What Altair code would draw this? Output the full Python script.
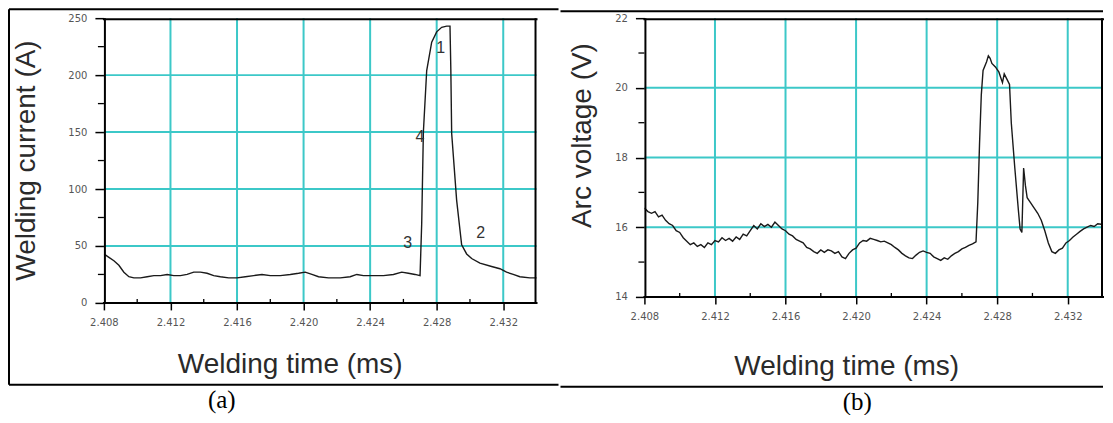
import altair as alt
import pandas as pd

# ---------------- data ----------------
cur_time = [2.4080, 2.4083, 2.4086, 2.4089, 2.4092, 2.4095, 2.4098, 2.4102, 2.4106, 2.4110,
            2.4114, 2.4118, 2.4122, 2.4126, 2.4130, 2.4134, 2.4138, 2.4142, 2.4146, 2.4150,
            2.4155, 2.4160, 2.4165, 2.4170, 2.4175, 2.4180, 2.4186, 2.4192, 2.4197, 2.4201,
            2.4205, 2.4209, 2.4215, 2.4222, 2.4228, 2.4232, 2.4236, 2.4242, 2.4248, 2.4254,
            2.4259, 2.4263, 2.4267, 2.4270, 2.4271, 2.4272, 2.4274, 2.4277, 2.4280, 2.4283,
            2.4286, 2.4288, 2.42885, 2.4289, 2.4292, 2.4295, 2.4298, 2.4301, 2.4306, 2.4313,
            2.4318, 2.4322, 2.4326, 2.4330, 2.4336, 2.4342]
cur_amp = [43, 40, 37, 33, 27, 23, 22, 22, 23, 24,
           24, 25, 24, 24, 25, 27, 27, 26, 24, 23,
           22, 22, 23, 24, 25, 24, 24, 25, 26, 27,
           25, 23, 22, 22, 23, 25, 24, 24, 24, 25,
           27, 26, 25, 24, 70, 150, 204, 229, 238, 242,
           243, 243, 205, 149, 90, 51, 43, 39, 35, 32,
           30, 27, 25, 23, 22, 22]

volt_time = [2.4080, 2.4082, 2.4084, 2.4086, 2.4088, 2.4090, 2.4092, 2.4094, 2.4096, 2.4098,
             2.4100, 2.4102, 2.4104, 2.4106, 2.4108, 2.4110, 2.4112, 2.4114, 2.4116, 2.4118,
             2.4120, 2.4122, 2.4124, 2.4126, 2.4128, 2.4130, 2.4132, 2.4134, 2.4136, 2.4138,
             2.4140, 2.4142, 2.4144, 2.4146, 2.4148, 2.4150, 2.4152, 2.4154, 2.4156, 2.4158,
             2.4160, 2.4162, 2.4164, 2.4166, 2.4168, 2.4170, 2.4172, 2.4174, 2.4176, 2.4178,
             2.4180, 2.4182, 2.4184, 2.4186, 2.4188, 2.4190, 2.4192, 2.4194, 2.4196, 2.4198,
             2.4200, 2.4202, 2.4204, 2.4206, 2.4208, 2.4210, 2.4212, 2.4214, 2.4216, 2.4218,
             2.4220, 2.4222, 2.4224, 2.4226, 2.4228, 2.4230, 2.4232, 2.4234, 2.4236, 2.4238,
             2.4240, 2.4242, 2.4244, 2.4246, 2.4248, 2.4250, 2.4252, 2.4254, 2.4256, 2.4258,
             2.4260, 2.4262, 2.4264, 2.4266, 2.4268, 2.4269, 2.4270, 2.4271, 2.4272, 2.4274,
             2.4275, 2.4276, 2.4277, 2.4279, 2.4281, 2.4282, 2.4283, 2.4284, 2.4285, 2.4286,
             2.4287, 2.4288, 2.4290, 2.4292, 2.4293, 2.4294, 2.4295, 2.4296, 2.4297, 2.4299,
             2.4301, 2.4303, 2.4305, 2.4307, 2.4309, 2.4311, 2.4313, 2.4315, 2.4317, 2.4319,
             2.4321, 2.4323, 2.4325, 2.4327, 2.4329, 2.4331, 2.4333, 2.4335, 2.4337, 2.4340]
volt_v = [16.55, 16.45, 16.40, 16.45, 16.30, 16.35, 16.20, 16.10, 16.05, 15.90,
          15.85, 15.70, 15.60, 15.50, 15.55, 15.45, 15.50, 15.42, 15.55, 15.50,
          15.62, 15.58, 15.70, 15.62, 15.68, 15.60, 15.72, 15.65, 15.80, 15.75,
          15.90, 16.05, 15.95, 16.10, 16.02, 16.08, 16.00, 16.15, 16.05, 15.95,
          15.90, 15.80, 15.75, 15.65, 15.60, 15.55, 15.42, 15.38, 15.30, 15.25,
          15.35, 15.28, 15.35, 15.32, 15.25, 15.30, 15.15, 15.10, 15.25, 15.35,
          15.40, 15.55, 15.62, 15.60, 15.68, 15.65, 15.62, 15.58, 15.60, 15.55,
          15.50, 15.42, 15.35, 15.25, 15.18, 15.12, 15.10, 15.20, 15.28, 15.32,
          15.28, 15.25, 15.15, 15.10, 15.05, 15.12, 15.08, 15.18, 15.25, 15.30,
          15.38, 15.42, 15.48, 15.52, 15.58, 16.70, 18.40, 19.80, 20.50, 20.75,
          20.92, 20.85, 20.70, 20.60, 20.45, 20.30, 20.15, 20.40, 20.30, 20.20,
          20.10, 19.00, 17.70, 16.50, 15.95, 15.85, 17.70, 17.20, 16.85, 16.70,
          16.55, 16.40, 16.20, 15.90, 15.55, 15.30, 15.25, 15.35, 15.40, 15.55,
          15.62, 15.72, 15.80, 15.88, 15.95, 16.00, 16.05, 16.02, 16.10, 16.08]

x_ticks = [2.408, 2.412, 2.416, 2.420, 2.424, 2.428, 2.432]
x_grid = [2.412, 2.416, 2.420, 2.424, 2.428, 2.432]
x_minor = [2.410, 2.414, 2.418, 2.422, 2.426, 2.430]
cur_ticks = [0, 50, 100, 150, 200, 250]
cur_grid = [50, 100, 150, 200]
cur_minor = [25, 75, 125, 175, 225]
volt_ticks = [14, 16, 18, 20, 22]
volt_grid = [16, 18, 20]
volt_minor = [15, 17, 19, 21]

anno_text = ["1", "4", "3", "2"]
anno_time = [2.42824, 2.42700, 2.42626, 2.43064]
anno_amp = [224, 146, 53, 61]

x_domain = [2.408, 2.434]

# ---------------- style ----------------
GRID = "#3cc8c8"
LINE = "#1a1a1a"
LAB_FONT = "DejaVu Sans"
TITLE_FONT = "Liberation Sans"

cur_df = pd.DataFrame({"t": cur_time, "v": cur_amp})
volt_df = pd.DataFrame({"t": volt_time, "v": volt_v})
anno_df = pd.DataFrame({"t": anno_time, "v": anno_amp, "s": anno_text})
one = pd.DataFrame({"k": [0]})


def vrule(x, y1, y2, width=2.0):
    return alt.Chart(one).mark_rule(color="black", strokeWidth=width).encode(
        x=alt.value(x), y=alt.value(y1), y2=alt.value(y2))


def hrule(x1, x2, y, width=2.0):
    return alt.Chart(one).mark_rule(color="black", strokeWidth=width).encode(
        x=alt.value(x1), x2=alt.value(x2), y=alt.value(y))


def panel(df, y_domain, y_ticks, y_grid, y_minor, y_title, w, h,
          ytx, yty, xtx, xty, frame_left, frame_right, frame_top, frame_bot,
          tag, tag_x, tag_y, with_anno=False, left_frame=True):
    xs = alt.Scale(domain=x_domain, nice=False, zero=False)
    ys = alt.Scale(domain=y_domain, nice=False, zero=False)

    x_axis = alt.Axis(values=x_ticks, format=".3f", grid=False, domain=False,
                      tickSize=7, tickWidth=1.5, tickColor="black",
                      labelFont=LAB_FONT, labelFontSize=10, labelColor="#555555",
                      labelPadding=8, labelFlush=False, labelOverlap=False,
                      title="Welding time (ms)", titleFont=TITLE_FONT, titleFontSize=28,
                      titleFontWeight="normal", titleColor="#2a2a2a",
                      titleX=xtx, titleY=xty, titleAlign="center",
                      titleBaseline="alphabetic")
    y_axis = alt.Axis(values=y_ticks, grid=False, domain=False,
                      tickSize=9, tickWidth=1.5, tickColor="black",
                      labelFont=LAB_FONT, labelFontSize=10, labelColor="#555555",
                      labelPadding=8, labelFlush=False, labelOverlap=False,
                      title=y_title, titleFont=TITLE_FONT, titleFontSize=28,
                      titleFontWeight="normal", titleColor="#2a2a2a",
                      titleX=ytx, titleY=yty, titleAngle=270, titleAlign="center",
                      titleBaseline="middle")

    def X(field="t"):
        return alt.X(f"{field}:Q", scale=xs, axis=x_axis)

    def Y(field="v"):
        return alt.Y(f"{field}:Q", scale=ys, axis=y_axis)

    gx = alt.Chart(pd.DataFrame({"t": x_grid})).mark_rule(
        color=GRID, strokeWidth=2).encode(x=X())
    gy = alt.Chart(pd.DataFrame({"v": y_grid})).mark_rule(
        color=GRID, strokeWidth=2).encode(y=Y())
    mx = alt.Chart(pd.DataFrame({"t": x_minor})).mark_rule(
        color="black", strokeWidth=1.3).encode(
        x=X(), y=alt.value(h), y2=alt.value(h - 4))
    my = alt.Chart(pd.DataFrame({"v": y_minor})).mark_rule(
        color="black", strokeWidth=1.3).encode(
        y=Y(), x=alt.value(0), x2=alt.value(-6))
    line = alt.Chart(df).mark_line(color=LINE, strokeWidth=1.4, clip=True).encode(
        x=X(), y=Y(), order="t:Q")

    layers = [gx, gy, mx, my, line]
    if with_anno:
        layers.append(alt.Chart(anno_df).mark_text(
            font=TITLE_FONT, fontSize=16, color="#333333", align="center",
            baseline="middle").encode(x=X(), y=Y(), text="s:N"))

    # plot-area box (all four edges), crisp 2px lines
    layers += [hrule(-1, w + 1, 1, 2.0), hrule(-1, w + 1, h, 2.0),
               vrule(1, 0, h, 2.0), vrule(w - 1, 0, h, 2.0)]

    # outer figure frame
    layers += [hrule(frame_left, frame_right, frame_top), hrule(frame_left, frame_right, frame_bot)]
    if left_frame:
        layers.append(vrule(frame_left, frame_top, frame_bot))
    lab = alt.Chart(pd.DataFrame({"s": [tag]})).mark_text(
        font="Liberation Serif", fontSize=25, color="black", align="center",
        baseline="bottom").encode(text="s:N", x=alt.value(tag_x), y=alt.value(tag_y))
    layers.append(lab)
    return alt.layer(*layers).properties(width=w, height=h)


left = panel(cur_df, [0, 250], cur_ticks, cur_grid, cur_minor, "Welding current (A)",
             433, 285, ytx=-77, yty=142, xtx=186, xty=70,
             frame_left=-95, frame_right=455, frame_top=-9, frame_bot=367,
             tag="(a)", tag_x=118, tag_y=395, with_anno=True, left_frame=True)

right = panel(volt_df, [14, 22], volt_ticks, volt_grid, volt_minor, "Arc voltage (V)",
              459, 279, ytx=-62, yty=117, xtx=202, xty=78,
              frame_left=-84, frame_right=459, frame_top=-7, frame_bot=369,
              tag="(b)", tag_x=213, tag_y=397, left_frame=False)

chart = alt.hconcat(left, right, spacing=0).properties(
    padding=0, background="white").configure_view(strokeWidth=0)

chart.save("out.html", embed_options={"renderer": "svg", "actions": False})
